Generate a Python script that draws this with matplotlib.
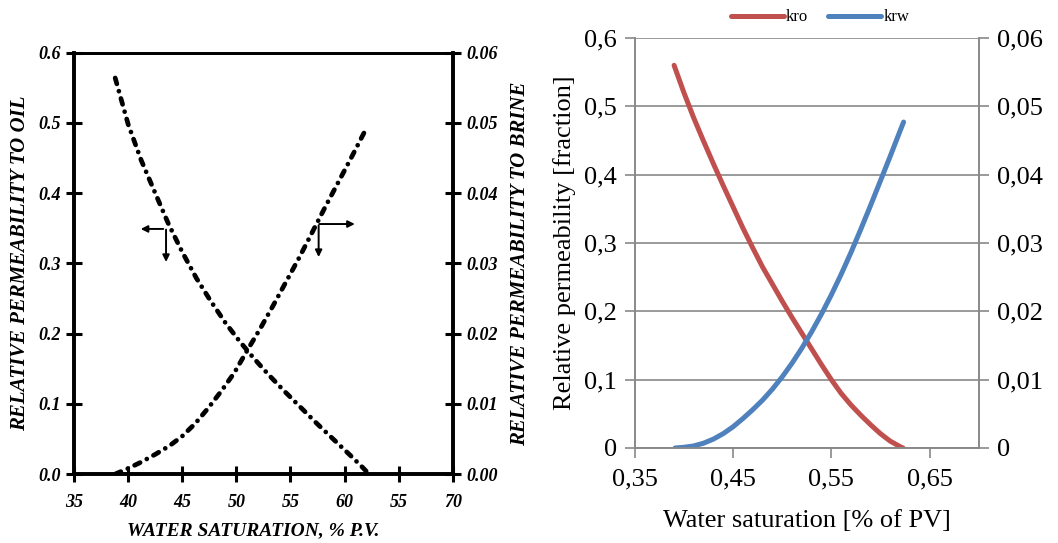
import matplotlib
matplotlib.use("Agg")
import matplotlib.pyplot as plt

# ---- Left panel: laboratory curves (Sw in % PV) ----
sw_oil = [38.8, 40.0, 41.2, 42.5, 43.7, 45.0, 46.3, 47.6, 49.0, 50.3, 51.6, 53.0, 54.5,
          56.0, 57.5, 59.0, 60.5, 61.5, 62.0]
kro_lab = [0.564, 0.498, 0.447, 0.400, 0.357, 0.316, 0.279, 0.247, 0.215, 0.189, 0.165, 0.141,
           0.117, 0.094, 0.071, 0.049, 0.027, 0.012, 0.004]

sw_brine = [38.8, 40.0, 41.2, 42.5, 43.8, 45.0, 46.2, 47.4, 48.6, 49.8, 51.0, 52.2, 53.4,
            54.6, 55.8, 57.0, 58.2, 59.4, 60.6, 61.8]
krw_lab = [0.0, 0.0008, 0.0017, 0.0028, 0.0040, 0.0054, 0.0072, 0.0094, 0.0118, 0.0144, 0.0176,
           0.0207, 0.0240, 0.0274, 0.0308, 0.0344, 0.0380, 0.0415, 0.0450, 0.0486]

left_xticks = [35, 40, 45, 50, 55, 60, 65, 70]
left_xticklabels = ["35", "40", "45", "50", "55", "60", "55", "70"]
left_yticks = [0.0, 0.1, 0.2, 0.3, 0.4, 0.5, 0.6]
left_yticklabels = ["0.0", "0.1", "0.2", "0.3", "0.4", "0.5", "0.6"]
left_y2ticks = [0.0, 0.01, 0.02, 0.03, 0.04, 0.05, 0.06]
left_y2ticklabels = ["0.00", "0.01", "0.02", "0.03", "0.04", "0.05", "0.06"]

# ---- Right panel: model curves (Sw as fraction) ----
sw_kro = [0.390, 0.400, 0.410, 0.420, 0.430, 0.440, 0.450, 0.460, 0.470, 0.480, 0.490, 0.500,
          0.510, 0.520, 0.530, 0.540, 0.550, 0.560, 0.570, 0.580, 0.590, 0.600, 0.610, 0.620, 0.623]
kro = [0.560, 0.520, 0.483, 0.449, 0.416, 0.384, 0.353, 0.322, 0.293, 0.265, 0.240, 0.215,
       0.191, 0.168, 0.145, 0.122, 0.100, 0.080, 0.063, 0.048, 0.034, 0.021, 0.010, 0.002, 0.0]

sw_krw = [0.391, 0.400, 0.410, 0.420, 0.430, 0.440, 0.450, 0.460, 0.470, 0.480, 0.490, 0.500,
          0.510, 0.520, 0.530, 0.540, 0.550, 0.560, 0.570, 0.580, 0.590, 0.600, 0.610, 0.620, 0.6236]
krw = [0.0, 0.0001, 0.0003, 0.0007, 0.0013, 0.0021, 0.0031, 0.0043, 0.0056, 0.0070, 0.0086, 0.0104,
       0.0124, 0.0146, 0.0170, 0.0196, 0.0224, 0.0254, 0.0286, 0.0320, 0.0355, 0.0391, 0.0427,
       0.0464, 0.0477]

right_xticks = [0.35, 0.45, 0.55, 0.65]
right_xticklabels = ["0,35", "0,45", "0,55", "0,65"]
right_yticks = [0.0, 0.1, 0.2, 0.3, 0.4, 0.5, 0.6]
right_yticklabels = ["0", "0,1", "0,2", "0,3", "0,4", "0,5", "0,6"]
right_y2ticks = [0.0, 0.01, 0.02, 0.03, 0.04, 0.05, 0.06]
right_y2ticklabels = ["0", "0,01", "0,02", "0,03", "0,04", "0,05", "0,06"]

fig = plt.figure(figsize=(10.58, 5.43), dpi=100)

# ================= Left panel =================
bi = dict(family="Liberation Serif", weight="bold", style="italic")
ax = fig.add_axes([0.070, 0.127, 0.358, 0.776])
ax.set_xlim(35, 70)
ax.set_ylim(0, 0.6)
for s in ax.spines.values():
    s.set_linewidth(2.6)
    s.set_color("black")
ax.spines["top"].set_linewidth(2.0)
ax.set_xticks(left_xticks)
ax.set_xticklabels(left_xticklabels, fontdict=dict(bi, size=13))
ax.set_yticks(left_yticks)
ax.set_yticklabels(left_yticklabels, fontdict=dict(bi, size=13))
ax.tick_params(axis="both", direction="inout", length=11, width=2.2, color="black")
ax.tick_params(axis="x", pad=9)
ax.tick_params(axis="y", pad=4)
ax.set_xlabel("WATER SATURATION, % P.V.", fontdict=dict(bi, size=14), labelpad=5)
ax.xaxis.set_label_coords(0.472, -0.115)
ax.set_ylabel("RELATIVE PERMEABILITY TO OIL", fontdict=dict(bi, size=15), labelpad=6)

dashdot = (0, (1.3, 1.6, 0.01, 1.6))
ax.plot(sw_oil, kro_lab, color="black", lw=3.4, linestyle=dashdot,
        dash_capstyle="round", solid_capstyle="round")

ax2 = ax.twinx()
ax2.set_ylim(0, 0.06)
for s in ax2.spines.values():
    s.set_linewidth(2.6)
ax2.spines["top"].set_linewidth(2.0)
ax2.set_yticks(left_y2ticks)
ax2.set_yticklabels(left_y2ticklabels, fontdict=dict(bi, size=13))
ax2.tick_params(axis="y", direction="inout", length=11, width=2.2, pad=4)
ax2.set_ylabel("RELATIVE PERMEABILITY TO BRINE", fontdict=dict(bi, size=15), labelpad=9)
ax2.plot(sw_brine, krw_lab, color="black", lw=3.4, linestyle=dashdot,
         dash_capstyle="round", solid_capstyle="round")

# axis-indicator arrows
arr = dict(arrowstyle="-|>", color="black", lw=1.4, mutation_scale=10)
ax.annotate("", xy=(40.9, 0.349), xytext=(43.5, 0.349), arrowprops=arr)
ax.annotate("", xy=(43.5, 0.298), xytext=(43.5, 0.352), arrowprops=arr)
ax.annotate("", xy=(61.2, 0.356), xytext=(57.4, 0.356), arrowprops=arr)
ax.annotate("", xy=(57.6, 0.305), xytext=(57.6, 0.358), arrowprops=arr)

# ================= Right panel =================
grey = "#898989"
tnr = "Liberation Serif"
bx = fig.add_axes([0.600, 0.175, 0.325, 0.755])
bx.set_xlim(0.35, 0.70)
bx.set_ylim(0, 0.6)
bx.set_xticks(right_xticks)
bx.set_xticklabels(right_xticklabels, family=tnr, size=19)
bx.set_yticks(right_yticks)
bx.set_yticklabels(right_yticklabels, family=tnr, size=19)
bx.grid(axis="y", color=grey, lw=1.2)
bx.set_axisbelow(True)
for name, s in bx.spines.items():
    s.set_color(grey)
    s.set_linewidth(1.2)
bx.spines["top"].set_visible(False)
bx.tick_params(axis="both", direction="out", length=7, width=1.2, color=grey)
bx.tick_params(axis="x", pad=8)
bx.tick_params(axis="y", pad=6)
bx.set_xlabel("Water saturation [% of PV]", family=tnr, size=19, labelpad=14)
bx.set_ylabel("Relative permeability [fraction]", family=tnr, size=19, labelpad=6)

l1, = bx.plot(sw_kro, kro, color="#C0504D", lw=3.6, solid_capstyle="round",
              solid_joinstyle="round", label="kro")

bx2 = bx.twinx()
bx2.set_ylim(0, 0.06)
bx2.set_yticks(right_y2ticks)
bx2.set_yticklabels(right_y2ticklabels, family=tnr, size=19)
for s in bx2.spines.values():
    s.set_color(grey)
    s.set_linewidth(1.2)
bx2.spines["top"].set_visible(False)
bx2.tick_params(axis="y", direction="out", length=7, width=1.2, color=grey, pad=6)
l2, = bx2.plot(sw_krw, krw, color="#4F81BD", lw=3.6, solid_capstyle="round",
               solid_joinstyle="round", label="krw")

leg = fig.legend(handles=[l1, l2], loc="center", bbox_to_anchor=(0.775, 0.968), ncol=2,
                 frameon=False, prop=dict(family=tnr, size=12), handlelength=3.2,
                 handletextpad=0.1, columnspacing=1.2)

fig.savefig("out.png", dpi=100)
